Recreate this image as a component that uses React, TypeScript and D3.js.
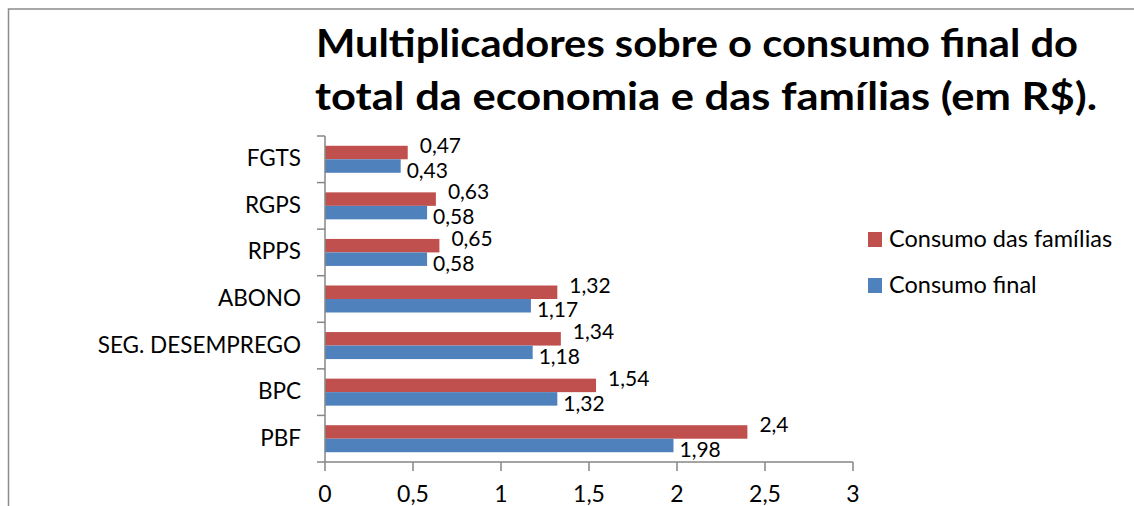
import React from 'react';
import * as d3 from 'd3';

const categories = ['FGTS', 'RGPS', 'RPPS', 'ABONO', 'SEG. DESEMPREGO', 'BPC', 'PBF'];
const consumoFamilias = [0.47, 0.63, 0.65, 1.32, 1.34, 1.54, 2.4];
const consumoFinal = [0.43, 0.58, 0.58, 1.17, 1.18, 1.32, 1.98];
const xTicks = [0, 0.5, 1, 1.5, 2, 2.5, 3];
const seriesNames = ['Consumo das famílias', 'Consumo final'];
const titleLines = [
  'Multiplicadores sobre o consumo final do',
  'total da economia e das famílias (em R$).'
];

const RED = '#C0504D';
const BLUE = '#4F81BD';
const AXIS = '#868686';
const FONT = 'Lato, "Open Sans", sans-serif';

const fmt = (v: number) => String(v).replace('.', ',');

export default function App() {
  const width = 1134,
    height = 506;
  const plot = { left: 325, right: 853, top: 136, bottom: 462 };

  const x = d3.scaleLinear().domain([0, 3]).range([plot.left, plot.right]);
  const y = d3.scaleBand().domain(categories).range([plot.top, plot.bottom]).padding(0);
  const inner = d3
    .scaleBand()
    .domain(['fam', 'fin'])
    .range([0, y.bandwidth()])
    .paddingInner(0)
    .paddingOuter(0.725);

  const boundaries = categories.map((c) => y(c)!).concat([plot.bottom]);

  return (
    <svg
      width={width}
      height={height}
      style={{ position: 'absolute', left: 0, top: 0, background: '#fff' }}
    >
      {/* chart border */}
      <rect x={8.5} y={9} width={1140} height={520} fill="#fff" stroke="#8c8c8c" strokeWidth={1.5} />

      {/* title */}
      <text
        x={316}
        y={57}
        fontFamily={FONT}
        fontWeight="bold"
        fontSize={39}
        textLength={762}
        lengthAdjust="spacingAndGlyphs"
        fill="#000"
      >
        {titleLines[0]}
      </text>
      <text
        x={315}
        y={110}
        fontFamily={FONT}
        fontWeight="bold"
        fontSize={39}
        textLength={782}
        lengthAdjust="spacingAndGlyphs"
        fill="#000"
      >
        {titleLines[1]}
      </text>

      {/* bars */}
      {categories.map((c, i) => {
        const y0 = y(c)!;
        const yf = y0 + inner('fam')!;
        const yb = y0 + inner('fin')!;
        const h = inner.bandwidth();
        return (
          <g key={c}>
            <rect x={x(0)} y={yf} width={x(consumoFamilias[i]) - x(0)} height={h} fill={RED} />
            <rect x={x(0)} y={yb} width={x(consumoFinal[i]) - x(0)} height={h} fill={BLUE} />
            <text
              x={x(consumoFamilias[i]) + 12}
              y={yf + 7}
              fontFamily={FONT}
              fontSize={21}
              fill="#000"
            >
              {fmt(consumoFamilias[i])}
            </text>
            <text
              x={x(consumoFinal[i]) + 6}
              y={yb + h + 5}
              fontFamily={FONT}
              fontSize={21}
              fill="#000"
            >
              {fmt(consumoFinal[i])}
            </text>
            <text
              x={301}
              y={y0 + y.bandwidth() / 2 + 7}
              textAnchor="end"
              fontFamily={FONT}
              fontSize={22.5}
              fill="#000"
            >
              {c}
            </text>
          </g>
        );
      })}

      {/* y axis */}
      <line x1={plot.left} x2={plot.left} y1={plot.top} y2={plot.bottom} stroke={AXIS} strokeWidth={1.5} />
      {boundaries.map((b, i) => (
        <line key={i} x1={plot.left - 8} x2={plot.left} y1={b} y2={b} stroke={AXIS} strokeWidth={1.5} />
      ))}

      {/* x axis */}
      <line x1={plot.left} x2={plot.right} y1={plot.bottom} y2={plot.bottom} stroke={AXIS} strokeWidth={1.5} />
      {xTicks.map((t) => (
        <g key={t}>
          <line x1={x(t)} x2={x(t)} y1={plot.bottom} y2={plot.bottom + 9} stroke={AXIS} strokeWidth={1.5} />
          <text x={x(t)} y={502} textAnchor="middle" fontFamily={FONT} fontSize={23} fill="#000">
            {fmt(t)}
          </text>
        </g>
      ))}

      {/* legend */}
      {seriesNames.map((s, i) => (
        <g key={s}>
          <rect x={868} y={232 + i * 46} width={14} height={15} fill={i === 0 ? RED : BLUE} />
          <text x={889} y={247 + i * 46} fontFamily={FONT} fontSize={23.5} fill="#000">
            {s}
          </text>
        </g>
      ))}
    </svg>
  );
}
